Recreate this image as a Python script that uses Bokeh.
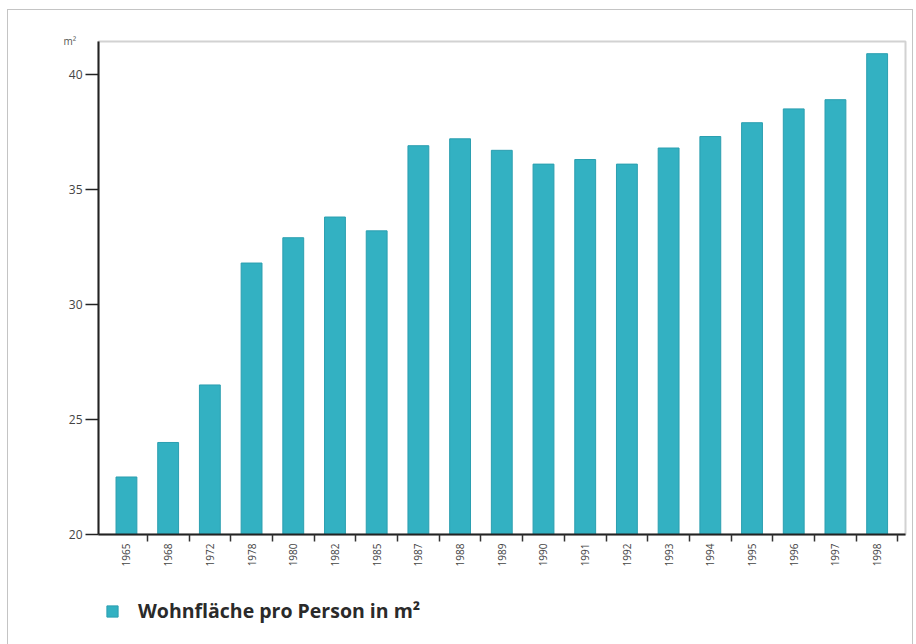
from bokeh.plotting import figure
from bokeh.layouts import column
from bokeh.models import (ColumnDataSource, FixedTicker, Range1d, Legend, LegendItem, Title)
from bokeh.embed import file_html
from bokeh.resources import INLINE

# Living space per person (m²) by survey year
years = ["1965", "1968", "1972", "1978", "1980", "1982", "1985", "1987", "1988", "1989",
         "1990", "1991", "1992", "1993", "1994", "1995", "1996", "1997", "1998"]
wohnflaeche = [22.5, 24.0, 26.5, 31.8, 32.9, 33.8, 33.2, 36.9, 37.2, 36.7,
               36.1, 36.3, 36.1, 36.8, 37.3, 37.9, 38.5, 38.9, 40.9]
y_ticks = [20, 25, 30, 35, 40]
series_label = "Wohnfläche pro Person in m²"
unit_label = "m²"

BAR = "#33b1c2"
BAR_EDGE = "#2b9fb0"
FONT = "Open Sans"

idx = list(range(len(years)))
src = ColumnDataSource(dict(x=idx, top=wohnflaeche, year=years))

p = figure(width=904, height=575, output_backend="svg", toolbar_location=None,
           x_range=Range1d(-0.67, len(years) - 0.32), y_range=Range1d(20, 41.43),
           min_border_left=90, min_border_right=7, min_border_top=31, min_border_bottom=51)
p.background_fill_color = "white"
p.border_fill_color = "white"
p.outline_line_color = "#d2d2d2"
p.outline_line_width = 2
p.xgrid.visible = False
p.ygrid.visible = False

bars = p.vbar(x="x", top="top", bottom=20, width=0.5, source=src,
              fill_color=BAR, line_color=BAR_EDGE, line_width=1)

# x axis: year labels under the bars, tick marks between the bars
xa = p.xaxis[0]
xa.ticker = FixedTicker(ticks=idx, minor_ticks=[i + 0.5 for i in idx])
xa.major_label_overrides = {i: y for i, y in zip(idx, years)}
xa.major_label_orientation = 3.14159265 / 2
xa.major_tick_out = 0
xa.major_tick_in = 0
xa.minor_tick_out = 7
xa.minor_tick_in = 0
xa.minor_tick_line_color = "#333333"
xa.minor_tick_line_width = 1.5
xa.axis_line_color = "#222222"
xa.axis_line_width = 2
xa.major_label_text_font = FONT
xa.major_label_text_font_size = "10px"
xa.major_label_text_color = "#444444"
xa.major_label_standoff = 2

ya = p.yaxis[0]
ya.ticker = FixedTicker(ticks=y_ticks, minor_ticks=[])
ya.major_tick_out = 13
ya.major_tick_in = 0
ya.major_tick_line_color = "#222222"
ya.major_tick_line_width = 1.5
ya.axis_line_color = "#222222"
ya.axis_line_width = 2
ya.major_label_text_font = FONT
ya.major_label_text_font_size = "12px"
ya.major_label_text_color = "#444444"
ya.major_label_standoff = 3

# unit above the value axis
p.add_layout(Title(text=unit_label, align="left", offset=-35, standoff=-12,
                   text_font=FONT, text_font_size="10px", text_color="#555555",
                   text_font_style="normal"), "above")

# legend strip under the chart; its key reuses the bar data but stays hidden
lg = figure(width=904, height=59, output_backend="svg", toolbar_location=None,
            x_range=Range1d(0, 1), y_range=Range1d(0, 1),
            min_border_left=0, min_border_right=0, min_border_top=0, min_border_bottom=0)
lg.axis.visible = False
lg.grid.visible = False
lg.outline_line_color = None
lg.background_fill_color = "white"
lg.border_fill_color = "white"
swatch = lg.vbar(x="x", top="top", bottom=20, width=0.5, source=src,
                 fill_color=BAR, line_color=BAR_EDGE, visible=False)
legend = Legend(items=[LegendItem(label=series_label, renderers=[swatch])],
                location=(7, 20), orientation="horizontal",
                glyph_width=14, glyph_height=14, label_standoff=19,
                padding=0, margin=0, border_line_color=None,
                background_fill_alpha=0, inactive_fill_alpha=0,
                label_text_font=FONT, label_text_font_size="19.5px",
                label_text_font_style="bold", label_text_color="#2a2a2a")
lg.add_layout(legend, "center")

# thin grey frame around the whole graphic
page = column(p, lg, spacing=0)
page.margin = (10, 0, 0, 8)
page.styles = {"outline": "1.5px solid #c4c4c4"}

open("out.html", "w").write(file_html(page, INLINE))
